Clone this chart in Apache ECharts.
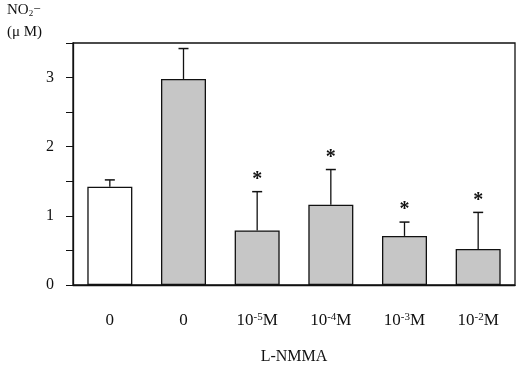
<!DOCTYPE html>
<html>
<head>
<meta charset="utf-8">
<script src="https://cdn.jsdelivr.net/npm/echarts@6/dist/echarts.min.js"></script>
<style>html,body{margin:0;padding:0;background:#fff}#c{width:520px;height:370px}</style>
</head>
<body>
<div id="c"></div>
<script>
// Data
var categories = ['0', '0', '10{s|-5}M', '10{s|-4}M', '10{s|-3}M', '10{s|-2}M'];
var means = [1.42, 2.98, 0.79, 1.16, 0.71, 0.52];
var errTops = [1.52, 3.42, 1.35, 1.67, 0.91, 1.05];
var significant = [0, 0, 1, 1, 1, 1];
var yTicks = [0, 1, 2, 3];

var FONT = '"Liberation Serif", "DejaVu Serif", serif';
var chart = echarts.init(document.getElementById('c'), null, {renderer: 'canvas'});

var barData = means.map(function (v, i) {
  return {value: v, itemStyle: {color: i === 0 ? '#ffffff' : '#c6c6c6'}};
});
var errData = means.map(function (v, i) { return [i, v, errTops[i], significant[i]]; });

chart.setOption({
  animation: false,
  backgroundColor: '#fff',
  grid: {left: 73, right: 5, top: 43, bottom: 82, show: true, borderColor: '#111', borderWidth: 1.3, backgroundColor: 'transparent'},
  xAxis: {
    type: 'category',
    data: categories,
    axisLine: {lineStyle: {color: '#111', width: 1.3}},
    axisTick: {alignWithLabel: true, length: 5, lineStyle: {color: '#111', width: 1}},
    axisLabel: {
      interval: 0,
      margin: 27, color: '#111', fontFamily: FONT, fontSize: 17,
      rich: {
        s: {fontSize: 11, fontFamily: FONT, color: '#111', verticalAlign: 'top', lineHeight: 11, padding: [0, 0, 6, 0]}
      }
    },
    name: 'L-NMMA',
    nameLocation: 'middle',
    nameGap: 64,
    nameTextStyle: {color: '#111', fontFamily: FONT, fontSize: 16}
  },
  yAxis: {
    type: 'value', min: 0, max: 3.5, interval: 0.5,
    axisLine: {show: true, lineStyle: {color: '#111', width: 1.3}},
    axisTick: {show: true, length: 7, lineStyle: {color: '#111', width: 1}},
    splitLine: {show: false},
    axisLabel: {
      margin: 19, color: '#111', fontFamily: FONT, fontSize: 16,
      formatter: function (v) { return yTicks.indexOf(v) >= 0 ? String(v) : ''; }
    }
  },
  graphic: [
    {type: 'text', left: 7, top: 3, style: {
      text: 'NO{sb|2}{sp|−}', fill: '#111', font: '15px ' + FONT,
      rich: {
        sb: {fontSize: 9, fontFamily: FONT, fill: '#111', verticalAlign: 'bottom', lineHeight: 9, padding: [6, 0, 0, 0]},
        sp: {fontSize: 13, fontFamily: FONT, fill: '#111', verticalAlign: 'top', lineHeight: 13}
      }
    }},
    {type: 'text', left: 7, top: 25, style: {text: '(μ M)', fill: '#111', font: '15px ' + FONT}}
  ],
  series: [
    {
      type: 'bar', data: barData, barWidth: 45,
      itemStyle: {borderColor: '#111', borderWidth: 1.3},
      z: 2
    },
    {
      type: 'custom', data: errData, z: 3,
      encode: {x: 0, y: [1, 2]},
      renderItem: function (params, api) {
        var i = api.value(0);
        var p0 = api.coord([i, api.value(1)]);
        var p1 = api.coord([i, api.value(2)]);
        var children = [
          {type: 'line', shape: {x1: p0[0], y1: p0[1], x2: p1[0], y2: p1[1]}, style: {stroke: '#111', lineWidth: 1.3}},
          {type: 'line', shape: {x1: p1[0] - 5, y1: p1[1], x2: p1[0] + 5, y2: p1[1]}, style: {stroke: '#111', lineWidth: 1.5}}
        ];
        if (api.value(3)) {
          children.push({type: 'text', style: {text: '*', x: p1[0], y: p1[1] - 12, align: 'center', verticalAlign: 'middle', font: 'bold 20px ' + FONT, fill: '#111'}});
        }
        return {type: 'group', children: children};
      }
    }
  ]
});
</script>
</body>
</html>
